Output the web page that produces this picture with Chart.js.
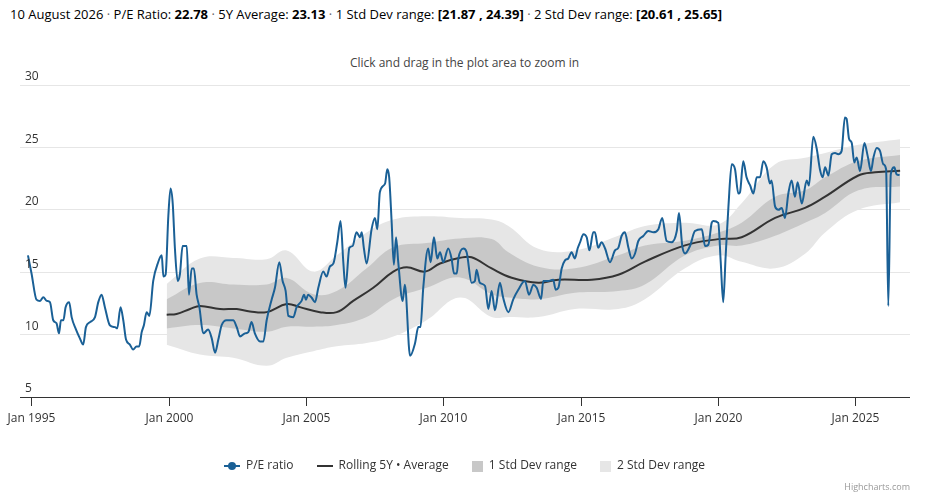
<!DOCTYPE html>
<html>
<head>
<meta charset="utf-8">
<script src="https://cdn.jsdelivr.net/npm/chart.js@4"></script>
<style>
  body { margin: 0; width: 929px; height: 498px; background: #fff; font-family: "Open Sans", sans-serif; position: relative; overflow: hidden; }
  #head { position: absolute; left: 10px; top: 5px; font-size: 13px; color: #000; white-space: nowrap; }
  #head .sep { color: #666; }
  #sub { position: absolute; left: 0; width: 929px; top: 54px; text-align: center; font-size: 12px; color: #444; }
  #chartWrap { position: absolute; left: 0; top: 0; width: 929px; height: 498px; }
  #legend { position: absolute; top: 455px; left: 0; width: 929px; text-align: center; font-size: 12px; color: #333; }
  #legend span.item { display: inline-block; margin: 0 10px; vertical-align: middle; }
  .sym { display: inline-block; vertical-align: middle; margin-right: 6px; position: relative; }
  #credit { position: absolute; right: 19px; top: 480px; font-size: 9px; color: #999; }
</style>
</head>
<body>
<div id="head">10 August 2026 <span class="sep">·</span> P/E Ratio: <b>22.78</b> <span class="sep">·</span> 5Y Average: <b>23.13</b> <span class="sep">·</span> 1 Std Dev range: <b>[21.87 , 24.39]</b> <span class="sep">·</span> 2 Std Dev range: <b>[20.61 , 25.65]</b></div>
<div id="sub">Click and drag in the plot area to zoom in</div>
<div id="chartWrap"><canvas id="peChart" width="929" height="498"></canvas></div>
<div id="legend">
  <span class="item"><span class="sym" style="width:16px;height:2px;background:#1a6096;"><span style="position:absolute;left:4px;top:-3px;width:8px;height:8px;border-radius:50%;background:#1a6096;"></span></span>P/E ratio</span>
  <span class="item"><span class="sym" style="width:16px;height:2px;background:#333;"></span>Rolling 5Y • Average</span>
  <span class="item"><span class="sym" style="width:11px;height:11px;background:#c8c8c8;"></span>1 Std Dev range</span>
  <span class="item"><span class="sym" style="width:11px;height:11px;background:#e6e6e6;"></span>2 Std Dev range</span>
</div>
<div id="credit">Highcharts.com</div>
<script>
const peYears = [1994.88,1995.01,1995.19,1995.32,1995.44,1995.56,1995.68,1995.80,1995.92,1996.01,1996.08,1996.17,1996.25,1996.38,1996.47,1996.63,1996.77,1996.89,1996.99,1997.14,1997.32,1997.44,1997.56,1997.68,1997.86,1998.05,1998.13,1998.25,1998.35,1998.45,1998.59,1998.71,1998.83,1998.93,1999.02,1999.10,1999.20,1999.30,1999.44,1999.62,1999.75,1999.81,1999.89,1999.99,2000.07,2000.15,2000.23,2000.33,2000.41,2000.51,2000.66,2000.74,2000.84,2000.92,2001.02,2001.12,2001.26,2001.44,2001.57,2001.69,2001.81,2001.93,2002.11,2002.35,2002.48,2002.60,2002.78,2002.90,2003.02,2003.14,2003.33,2003.45,2003.57,2003.75,2003.87,2004.03,2004.15,2004.26,2004.36,2004.54,2004.66,2004.84,2004.93,2005.00,2005.08,2005.21,2005.33,2005.45,2005.63,2005.75,2005.87,2006.00,2006.14,2006.26,2006.36,2006.44,2006.58,2006.70,2006.84,2006.97,2007.03,2007.11,2007.21,2007.39,2007.51,2007.60,2007.69,2007.88,2007.96,2008.03,2008.12,2008.20,2008.28,2008.36,2008.52,2008.60,2008.79,2008.97,2009.09,2009.17,2009.27,2009.45,2009.54,2009.66,2009.78,2009.88,2010.00,2010.18,2010.30,2010.39,2010.49,2010.55,2010.73,2010.85,2011.03,2011.15,2011.21,2011.33,2011.52,2011.64,2011.76,2011.88,2012.06,2012.18,2012.37,2012.55,2012.73,2012.97,2013.12,2013.28,2013.40,2013.56,2013.64,2013.82,2014.00,2014.09,2014.19,2014.31,2014.43,2014.55,2014.67,2014.79,2014.89,2014.98,2015.10,2015.22,2015.32,2015.46,2015.52,2015.64,2015.76,2015.89,2016.07,2016.25,2016.37,2016.49,2016.61,2016.74,2016.86,2016.98,2017.10,2017.28,2017.46,2017.65,2017.83,2017.97,2018.13,2018.31,2018.50,2018.58,2018.70,2018.80,2018.98,2019.16,2019.41,2019.53,2019.65,2019.77,2019.83,2020.01,2020.10,2020.19,2020.28,2020.38,2020.50,2020.62,2020.74,2020.80,2020.92,2021.04,2021.17,2021.29,2021.41,2021.53,2021.65,2021.77,2021.89,2021.95,2022.08,2022.20,2022.32,2022.44,2022.56,2022.68,2022.80,2022.90,2023.05,2023.23,2023.31,2023.47,2023.59,2023.71,2023.81,2023.90,2024.02,2024.14,2024.26,2024.38,2024.50,2024.62,2024.68,2024.77,2024.87,2024.96,2025.05,2025.17,2025.33,2025.45,2025.57,2025.66,2025.78,2025.90,2026.02,2026.12,2026.20,2026.29,2026.42,2026.50,2026.61];
const peValues = [16.35,14.9,12.8,12.7,13.0,12.7,12.6,11.15,10.9,10.1,11.15,11.15,12.2,12.6,11.4,10.4,9.7,9.2,10.6,11.0,11.4,12.6,13.2,12.2,10.75,10.6,10.5,12.2,11.15,9.6,9.2,8.8,9.05,9.05,10.2,10.75,11.8,11.5,14.3,15.8,16.35,14.65,14.8,19.5,21.7,20.5,16.9,14.3,14.8,17.1,17.1,13.2,15.3,15.3,13.2,12.2,10.1,10.4,9.7,8.55,9.6,10.75,11.15,11.15,10.6,9.85,10.1,10.2,11.0,10.1,9.45,9.45,11.15,12.8,13.75,15.8,14.3,13.5,11.5,11.4,12.2,12.7,13.2,12.8,13.2,12.95,12.6,13.75,15.05,14.65,15.45,15.7,17.4,19.1,15.8,13.75,16.95,17.1,18.2,17.8,18.2,16.9,15.7,18.45,19.35,18.45,21.4,22.1,23.25,22.6,19.0,15.6,17.8,15.8,12.7,14.0,8.3,9.3,10.6,10.6,13.75,16.9,15.8,17.8,16.1,16.6,15.8,16.9,16.1,14.9,14.9,16.1,16.9,16.6,14.15,14.3,15.2,14.15,13.9,12.05,13.5,11.95,14.15,12.95,11.8,12.85,13.6,14.3,13.2,14.0,13.75,12.85,14.3,14.3,14.4,13.6,13.75,15.3,15.95,16.1,16.6,16.1,16.9,17.4,18.05,17.8,16.75,18.2,18.2,16.95,17.4,16.9,15.8,16.75,16.95,17.9,18.2,16.95,16.1,16.5,17.5,17.9,18.3,18.2,18.45,19.35,17.5,17.4,18.3,19.75,17.1,16.5,17.1,18.3,18.45,17.1,17.2,18.95,19.1,18.95,15.8,12.6,16.35,20.25,23.65,23.25,21.3,21.4,23.9,22.6,21.95,21.3,22.6,22.6,23.9,23.4,22.1,22.35,20.25,20.0,20.15,19.35,21.3,22.35,21.05,22.2,20.5,22.35,21.95,25.85,24.95,23.25,22.6,23.4,22.75,24.45,24.55,24.45,24.7,27.4,27.3,25.7,25.35,23.8,24.2,23.1,25.35,24.3,23.1,24.2,24.95,24.7,23.65,23.25,12.3,22.85,23.4,22.85,22.78];

const avgYears = [1999.93,2000.29,2000.78,2001.14,2001.87,2002.48,2002.96,2003.57,2004.30,2004.78,2005.51,2006.12,2006.72,2007.45,2008.18,2008.67,2009.33,2009.88,2010.61,2011.03,2011.76,2012.49,2013.46,2014.19,2015.40,2016.37,2017.34,2018.80,2020.01,2020.86,2022.08,2023.17,2023.90,2025.11,2025.72,2026.63];
const avgValues = [11.6,11.65,12.05,12.3,12.05,12.05,11.85,11.8,12.45,12.2,11.8,11.8,12.7,13.75,15.05,15.4,15.05,15.7,16.15,16.2,15.3,14.55,14.15,14.4,14.4,14.8,15.85,17.15,17.65,17.8,19.35,20.15,21.05,22.75,23.0,23.13];

const bandYears = [1999.93,2001.14,2002.35,2003.57,2004.30,2005.27,2006.12,2007.21,2008.18,2009.39,2010.61,2011.76,2012.37,2013.46,2014.79,2016.37,2017.34,2018.80,2020.01,2020.86,2022.08,2023.17,2023.90,2025.11,2026.63];
const sd1Upper = [12.84,14.14,14.01,14.01,14.53,13.23,13.49,15.31,17.0,17.34,17.71,17.66,16.6,15.44,15.31,16.35,17.14,17.53,18.18,18.96,21.04,21.56,22.6,23.91,24.39];
const sd1Lower = [10.49,10.76,10.49,10.23,10.63,10.63,10.76,11.41,12.84,13.75,14.58,13.23,12.97,12.84,13.36,13.49,14.01,16.35,17.14,17.14,17.92,18.96,19.74,21.56,21.87];
const sd2Upper = [14.06,16.09,16.14,16.04,16.74,15.05,16.35,18.18,19.22,19.48,19.35,19.22,18.7,16.88,16.74,17.92,18.7,18.96,18.83,20.52,23.65,24.17,24.56,25.21,25.65];
const sd2Lower = [9.19,8.41,8.15,7.5,8.15,8.67,9.06,9.32,9.84,11.15,12.97,11.41,11.41,11.41,12.06,12.06,12.84,15.31,16.35,15.83,15.31,16.48,18.18,20.0,20.61];

const yTicks = [5, 10, 15, 20, 25, 30];
const xTickYears = [1995, 2000, 2005, 2010, 2015, 2020, 2025];

const pts = (xs, ys) => xs.map((x, i) => ({ x, y: ys[i] }));

const axisLabels = {
    id: 'axisLabels',
    afterDraw(chart) {
        const { ctx, chartArea, scales: { x, y } } = chart;
        ctx.save();
        ctx.font = '12px "Open Sans", sans-serif';
        ctx.fillStyle = '#333';
        ctx.textAlign = 'left';
        ctx.textBaseline = 'bottom';
        yTicks.forEach(v => ctx.fillText(String(v), 25, y.getPixelForValue(v) - 2));
        // bottom axis line and ticks
        ctx.strokeStyle = '#333';
        ctx.lineWidth = 1;
        ctx.beginPath();
        ctx.moveTo(chartArea.left, chartArea.bottom + 0.5);
        ctx.lineTo(chartArea.right, chartArea.bottom + 0.5);
        ctx.stroke();
        ctx.textAlign = 'center';
        ctx.textBaseline = 'top';
        xTickYears.forEach(yr => {
            const px = Math.round(x.getPixelForValue(yr)) + 0.5;
            ctx.beginPath();
            ctx.moveTo(px, chartArea.bottom);
            ctx.lineTo(px, chartArea.bottom + 9);
            ctx.stroke();
            ctx.fillText('Jan ' + yr, px, chartArea.bottom + 16);
        });
        ctx.restore();
    }
};

const ctx = document.getElementById('peChart').getContext('2d');
new Chart(ctx, {
    type: 'line',
    data: {
        datasets: [
            { data: pts(bandYears, sd2Upper), borderWidth: 0, pointRadius: 0, backgroundColor: '#e6e6e6', fill: '+1', tension: 0.4, order: 5 },
            { data: pts(bandYears, sd2Lower), borderWidth: 0, pointRadius: 0, fill: false, tension: 0.4, order: 5 },
            { data: pts(bandYears, sd1Upper), borderWidth: 0, pointRadius: 0, backgroundColor: '#c8c8c8', fill: '+1', tension: 0.4, order: 4 },
            { data: pts(bandYears, sd1Lower), borderWidth: 0, pointRadius: 0, fill: false, tension: 0.4, order: 4 },
            { data: pts(avgYears, avgValues), borderColor: '#333', borderWidth: 2, pointRadius: 0, fill: false, tension: 0.4, order: 2 },
            { data: pts(peYears, peValues), borderColor: '#1a6096', borderWidth: 2, pointRadius: 0, fill: false, cubicInterpolationMode: 'monotone', order: 1 }
        ]
    },
    options: {
        responsive: false,
        animation: false,
        layout: { padding: { left: 20, right: 19, top: 85, bottom: 93 } },
        plugins: { legend: { display: false }, tooltip: { enabled: false } },
        scales: {
            x: {
                type: 'linear', min: 1994.59, max: 2026.99,
                ticks: { display: false },
                grid: { display: false },
                border: { display: false }
            },
            y: {
                min: 5, max: 30,
                ticks: { display: false, stepSize: 5 },
                grid: { color: '#e6e6e6', drawTicks: false },
                border: { display: false }
            }
        }
    },
    plugins: [axisLabels]
});
</script>
</body>
</html>
